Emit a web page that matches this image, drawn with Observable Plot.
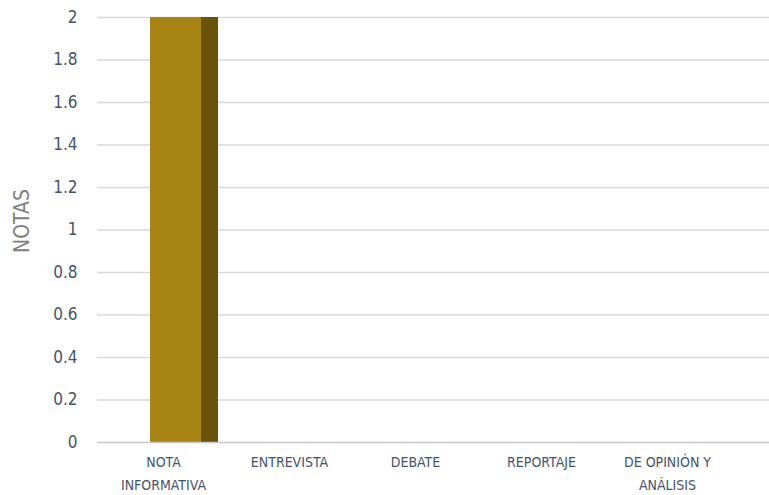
<!DOCTYPE html>
<html><head><meta charset="utf-8">
<script src="https://cdn.jsdelivr.net/npm/d3@7"></script>
<script src="https://cdn.jsdelivr.net/npm/@observablehq/plot@0.6"></script>
<style>
body{margin:0;background:#fff;}
</style>
</head><body><div id="chart"></div>
<script>
const categories = ["NOTA INFORMATIVA", "ENTREVISTA", "DEBATE", "REPORTAJE", "DE OPINIÓN Y ANÁLISIS"];
const labels = ["NOTA\nINFORMATIVA", "ENTREVISTA", "DEBATE", "REPORTAJE", "DE OPINIÓN Y\nANÁLISIS"];
const values = [2, 0, 0, 0, 0];
const yTicks = [0, 0.2, 0.4, 0.6, 0.8, 1, 1.2, 1.4, 1.6, 1.8, 2];

const data = categories.map((c, i) => ({cat: c, v: values[i]}));
const font = "'Liberation Sans Narrow', 'DejaVu Sans Condensed', 'Roboto', sans-serif";

const chart = Plot.plot({
  width: 769,
  height: 495,
  marginTop: 17,
  marginBottom: 53,
  marginLeft: 97,
  marginRight: 0,
  style: {fontFamily: font, background: "#fff"},
  x: {domain: categories, range: [99, 731], padding: 0, label: null},
  y: {domain: [0, 2], label: null},
  marks: [
    Plot.ruleY(yTicks.filter(d => d > 0), {stroke: "#d9d9d9", strokeWidth: 1.5}),
    Plot.rectY(data.filter(d => d.v > 0), {x: "cat", y: "v", fill: "#a88414", insetLeft: 50, insetRight: 25}),
    Plot.rectY(data.filter(d => d.v > 0), {x: "cat", y: "v", fill: "#695209", insetLeft: 101, insetRight: 8}),
    Plot.ruleY([0], {stroke: "#c8c8c8", strokeWidth: 1.5}),
    Plot.axisY({ticks: yTicks, tickSize: 0, tickPadding: 20, fontSize: 17, color: "#44546a", label: null, tickFormat: d => String(d)}),
    Plot.axisX({tickSize: 0, tickPadding: 9, fontSize: 14, color: "#44546a", label: null, tickFormat: d => labels[categories.indexOf(d)], lineHeight: 1.6}),
    Plot.text(["NOTAS"], {frameAnchor: "left", textAnchor: "middle", dx: -75, dy: -9, rotate: -90, fontSize: 21, fill: "#808080", text: d => d})
  ]
});
document.getElementById("chart").appendChild(chart);
</script>
</body></html>
